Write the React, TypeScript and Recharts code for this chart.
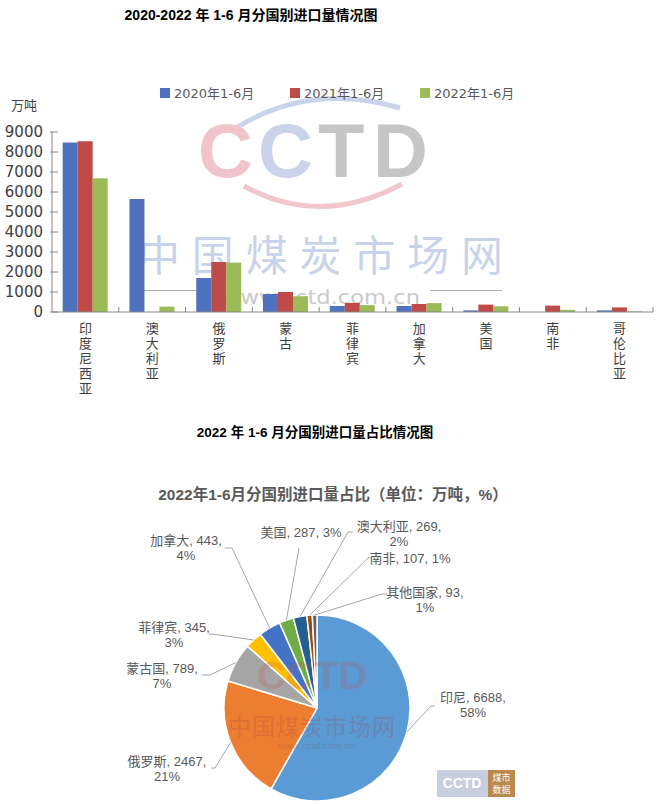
import React from 'react';
import { BarChart, Bar, XAxis, YAxis, PieChart, Pie, Cell } from 'recharts';

// ---------- data ----------
const countries = ['印度尼西亚', '澳大利亚', '俄罗斯', '蒙古', '菲律宾', '加拿大', '美国', '南非', '哥伦比亚'];
const imports2020 = [8480, 5650, 1700, 900, 300, 300, 80, 0, 80];
const imports2021 = [8540, 0, 2500, 1000, 450, 400, 370, 320, 230];
const imports2022 = [6688, 269, 2467, 789, 345, 443, 287, 107, 30];
const seriesNames = ['2020年1-6月', '2021年1-6月', '2022年1-6月'];
const yTicks = [0, 1000, 2000, 3000, 4000, 5000, 6000, 7000, 8000, 9000];

const pieNames = ['印尼', '俄罗斯', '蒙古国', '菲律宾', '加拿大', '美国', '澳大利亚', '南非', '其他国家'];
const pieValues = [6688, 2467, 789, 345, 443, 287, 269, 107, 93];
const piePct = [58, 21, 7, 3, 4, 3, 2, 1, 1];

// ---------- styles / layout ----------
const CJK = '"Noto Sans CJK SC"';
const FONT = `"Liberation Sans", ${CJK}, sans-serif`;
const FONT_WIDE = `"DejaVu Sans", ${CJK}, sans-serif`;
const barColors = ['#4E72BD', '#BE4B48', '#9BBB59'];
const pieColors = ['#5B9BD5', '#ED7D31', '#A5A5A5', '#FFC000', '#4472C4', '#70AD47', '#255E91', '#9E480E', '#636363'];

const BAR_W = 663;
const BAR_H = 400;
const BAR_MARGIN = { top: 132, right: 10, left: 0, bottom: 0 };
const Y_AXIS_W = 52;
const X_AXIS_H = 88;
const PLOT_W = BAR_W - BAR_MARGIN.left - BAR_MARGIN.right - Y_AXIS_W;
const BAND = PLOT_W / countries.length;

const PIE_TOP = 440;
const PIE_CX = 312;
const PIE_CY = 263;
const PIE_R = 93;

// label placement relative to pie centre: elbow point, horizontal stub, text centre, single line?
const pieLabelLayout = [
  { elbow: [114, -2], stub: 4, text: [156, -11], one: false },
  { elbow: [-102, 60], stub: -4, text: [-150, 53], one: false },
  { elbow: [-107, -33], stub: -8, text: [-155, -40], one: false },
  { elbow: [-105, -74], stub: -3, text: [-143, -81], one: false },
  { elbow: [-85, -160], stub: -7, text: [-131, -168], one: false },
  { elbow: [-18, -160], stub: 0, text: [-16, -176], one: true },
  { elbow: [31, -176], stub: 5, text: [82, -182], one: false },
  { elbow: [51, -150], stub: 3, text: [93, -150], one: true },
  { elbow: [65, -114], stub: 5, text: [108, -116], one: false },
];

const barData = countries.map((c, i) => ({
  country: c,
  y2020: imports2020[i],
  y2021: imports2021[i],
  y2022: imports2022[i],
}));
const seriesKeys = ['y2020', 'y2021', 'y2022'];

const pieData = pieNames.map((n, i) => ({ name: n, value: pieValues[i], pct: piePct[i] }));

// ---------- custom ticks ----------
const CategoryTick = (props: any) => {
  const { x, y, payload } = props;
  const chars = Array.from(String(payload.value));
  const bx = x + BAND / 2;
  return (
    <g>
      <line x1={bx} x2={bx} y1={y - 5} y2={y} stroke="#868686" strokeWidth={1} />
      <text x={x} y={y + 21} textAnchor="middle" fontSize={13} fill="#404040" fontFamily={FONT}>
        {chars.map((ch, i) => (
          <tspan key={i} x={x} dy={i === 0 ? 0 : 15}>
            {ch}
          </tspan>
        ))}
      </text>
    </g>
  );
};

const ValueTick = (props: any) => {
  const { x, y, payload } = props;
  return (
    <g>
      <line x1={x - 2} x2={x + 6} y1={y} y2={y} stroke="#868686" strokeWidth={1} />
      <text x={x - 9} y={y} dy="0.36em" textAnchor="end" fontSize={15} fill="#404040" fontFamily={FONT_WIDE}>
        {payload.value}
      </text>
    </g>
  );
};

const renderPieLabel = (props: any) => {
  const { cx, cy, outerRadius, index, payload } = props;
  let midAngle = props.midAngle;
  if (midAngle === undefined) midAngle = (props.startAngle + props.endAngle) / 2;
  const L = pieLabelLayout[index];
  const rad = Math.PI / 180;
  const sx = cx + outerRadius * Math.cos(-midAngle * rad);
  const sy = cy + outerRadius * Math.sin(-midAngle * rad);
  const ex = cx + L.elbow[0];
  const ey = cy + L.elbow[1];
  const hx = ex + L.stub;
  const tx = cx + L.text[0];
  const ty = cy + L.text[1];
  const d = payload && payload.name ? payload : pieData[index];
  const lines = L.one ? [`${d.name}, ${d.value}, ${d.pct}%`] : [`${d.name}, ${d.value},`, `${d.pct}%`];
  return (
    <g key={`lbl-${index}`}>
      <polyline points={`${sx},${sy} ${ex},${ey} ${hx},${ey}`} fill="none" stroke="#A6A6A6" strokeWidth={1} />
      {lines.map((ln, i) => (
        <text key={i} x={tx} y={ty + i * 15} dy="0.36em" textAnchor="middle" fontSize={13} fill="#595959" fontFamily={FONT}>
          {ln}
        </text>
      ))}
    </g>
  );
};

export default function App() {
  return (
    <div style={{ position: 'absolute', left: 0, top: 0, width: 663, height: 804, background: '#fff', overflow: 'hidden' }}>
      {/* background decorations, titles, legend */}
      <svg style={{ position: 'absolute', left: 0, top: 0 }} width={663} height={804}>
        <text x={251} y={20} textAnchor="middle" fontSize={14} fontWeight="bold" fill="#000" fontFamily={FONT}>
          2020-2022 年 1-6 月分国别进口量情况图
        </text>
        {/* CCTD watermark */}
        <path d="M 236 128 Q 310 82 400 108" fill="none" stroke="#C9D4EA" strokeWidth={5} />
        <path d="M 244 186 Q 320 228 402 184" fill="none" stroke="#F2C6CD" strokeWidth={5} />
        <text y={177} fontSize={76} fontWeight="bold" fontFamily={FONT} fill="#F1C3CB">
          <tspan x={198}>C</tspan>
        </text>
        <text y={177} fontSize={76} fontWeight="bold" fontFamily={FONT} fill="#C9D4EA">
          <tspan x={258}>C</tspan>
        </text>
        <text y={177} fontSize={76} fontWeight="bold" fontFamily={FONT} fill="#C6C6C6">
          <tspan x={318}>T</tspan>
          <tspan x={373}>D</tspan>
        </text>
        <text x={138} y={271} fontSize={42} fontFamily={CJK} fill="#C8D3E9" textLength={365} lengthAdjust="spacing">
          中国煤炭市场网
        </text>
        <text x={222} y={304} fontSize={20} fontFamily={FONT_WIDE} fill="#CACACA" textLength={198} lengthAdjust="spacingAndGlyphs">
          www.cctd.com.cn
        </text>
        <line x1={140} x2={213} y1={290.5} y2={290.5} stroke="#9A9A9A" strokeWidth={0.8} />
        <line x1={430} x2={502} y1={290.5} y2={290.5} stroke="#9A9A9A" strokeWidth={0.8} />

        {/* legend */}
        {seriesNames.map((s, i) => (
          <g key={s}>
            <rect x={160 + i * 130} y={88} width={10} height={10} fill={barColors[i]} />
            <text x={174 + i * 130} y={97.5} fontSize={13} fill="#595959" fontFamily={FONT_WIDE}>
              {s}
            </text>
          </g>
        ))}
        <text x={11} y={110} fontSize={13} fill="#404040" fontFamily={FONT}>
          万吨
        </text>

        <text x={315} y={437} textAnchor="middle" fontSize={13.5} fontWeight="bold" fill="#000" fontFamily={FONT}>
          2022 年 1-6 月分国别进口量占比情况图
        </text>
        <text x={333} y={500} textAnchor="middle" fontSize={15.5} fontWeight="bold" fill="#595959" fontFamily={FONT}>
          2022年1-6月分国别进口量占比（单位：万吨，%）
        </text>
      </svg>

      <div style={{ position: 'absolute', left: 0, top: 0 }}>
        <BarChart
          width={BAR_W}
          height={BAR_H}
          data={barData}
          margin={BAR_MARGIN}
          barGap={0}
          barCategoryGap="16%"
        >
          <XAxis
            dataKey="country"
            height={X_AXIS_H}
            interval={0}
            tickSize={0}
            tickMargin={0}
            tick={<CategoryTick />}
            stroke="#868686"
          />
          <YAxis
            width={Y_AXIS_W}
            domain={[0, 9000]}
            ticks={yTicks}
            interval={0}
            tickSize={0}
            tickMargin={0}
            tick={<ValueTick />}
            stroke="#868686"
          />
          {seriesKeys.map((k, i) => (
            <Bar key={k} dataKey={k} name={seriesNames[i]} fill={barColors[i]} isAnimationActive={false} />
          ))}
        </BarChart>
      </div>

      <div style={{ position: 'absolute', left: 0, top: PIE_TOP }}>
        <PieChart width={663} height={804 - PIE_TOP}>
          <Pie
            data={pieData}
            dataKey="value"
            nameKey="name"
            cx={PIE_CX}
            cy={PIE_CY}
            outerRadius={PIE_R}
            startAngle={90}
            endAngle={-270}
            stroke="#FFFFFF"
            strokeWidth={1.5}
            label={renderPieLabel}
            labelLine={false}
            isAnimationActive={false}
          >
            {pieData.map((d, i) => (
              <Cell key={d.name} fill={pieColors[i]} />
            ))}
          </Pie>
        </PieChart>
      </div>

      {/* foreground watermark over pie + badge */}
      <svg style={{ position: 'absolute', left: 0, top: 0, pointerEvents: 'none' }} width={663} height={804}>
        <g opacity={0.22}>
          <text x={257} y={689} fontSize={38} fontWeight="bold" fontFamily={FONT} fill="#C0504D" textLength={110} lengthAdjust="spacingAndGlyphs">
            CCTD
          </text>
          <text x={228} y={735} fontSize={23} fontFamily={CJK} fill="#A04040" textLength={167} lengthAdjust="spacing">
            中国煤炭市场网
          </text>
          <text x={278} y={749} fontSize={9} fontFamily={FONT} fill="#804040" textLength={77} lengthAdjust="spacingAndGlyphs">
            www.cctd.com.cn
          </text>
        </g>
        <rect x={437} y={770} width={51} height={27} fill="#C7CEE0" />
        <text x={462} y={788} textAnchor="middle" fontSize={14} fontWeight="bold" fill="#FFFFFF" fontFamily={FONT}>
          CCTD
        </text>
        <rect x={488} y={770} width={27} height={27} fill="#B9894E" />
        <text x={501.5} y={781} textAnchor="middle" fontSize={9} fill="#FFFFFF" fontFamily={CJK}>
          煤市
        </text>
        <text x={501.5} y={793} textAnchor="middle" fontSize={9} fill="#FFFFFF" fontFamily={CJK}>
          数据
        </text>
      </svg>
    </div>
  );
}
